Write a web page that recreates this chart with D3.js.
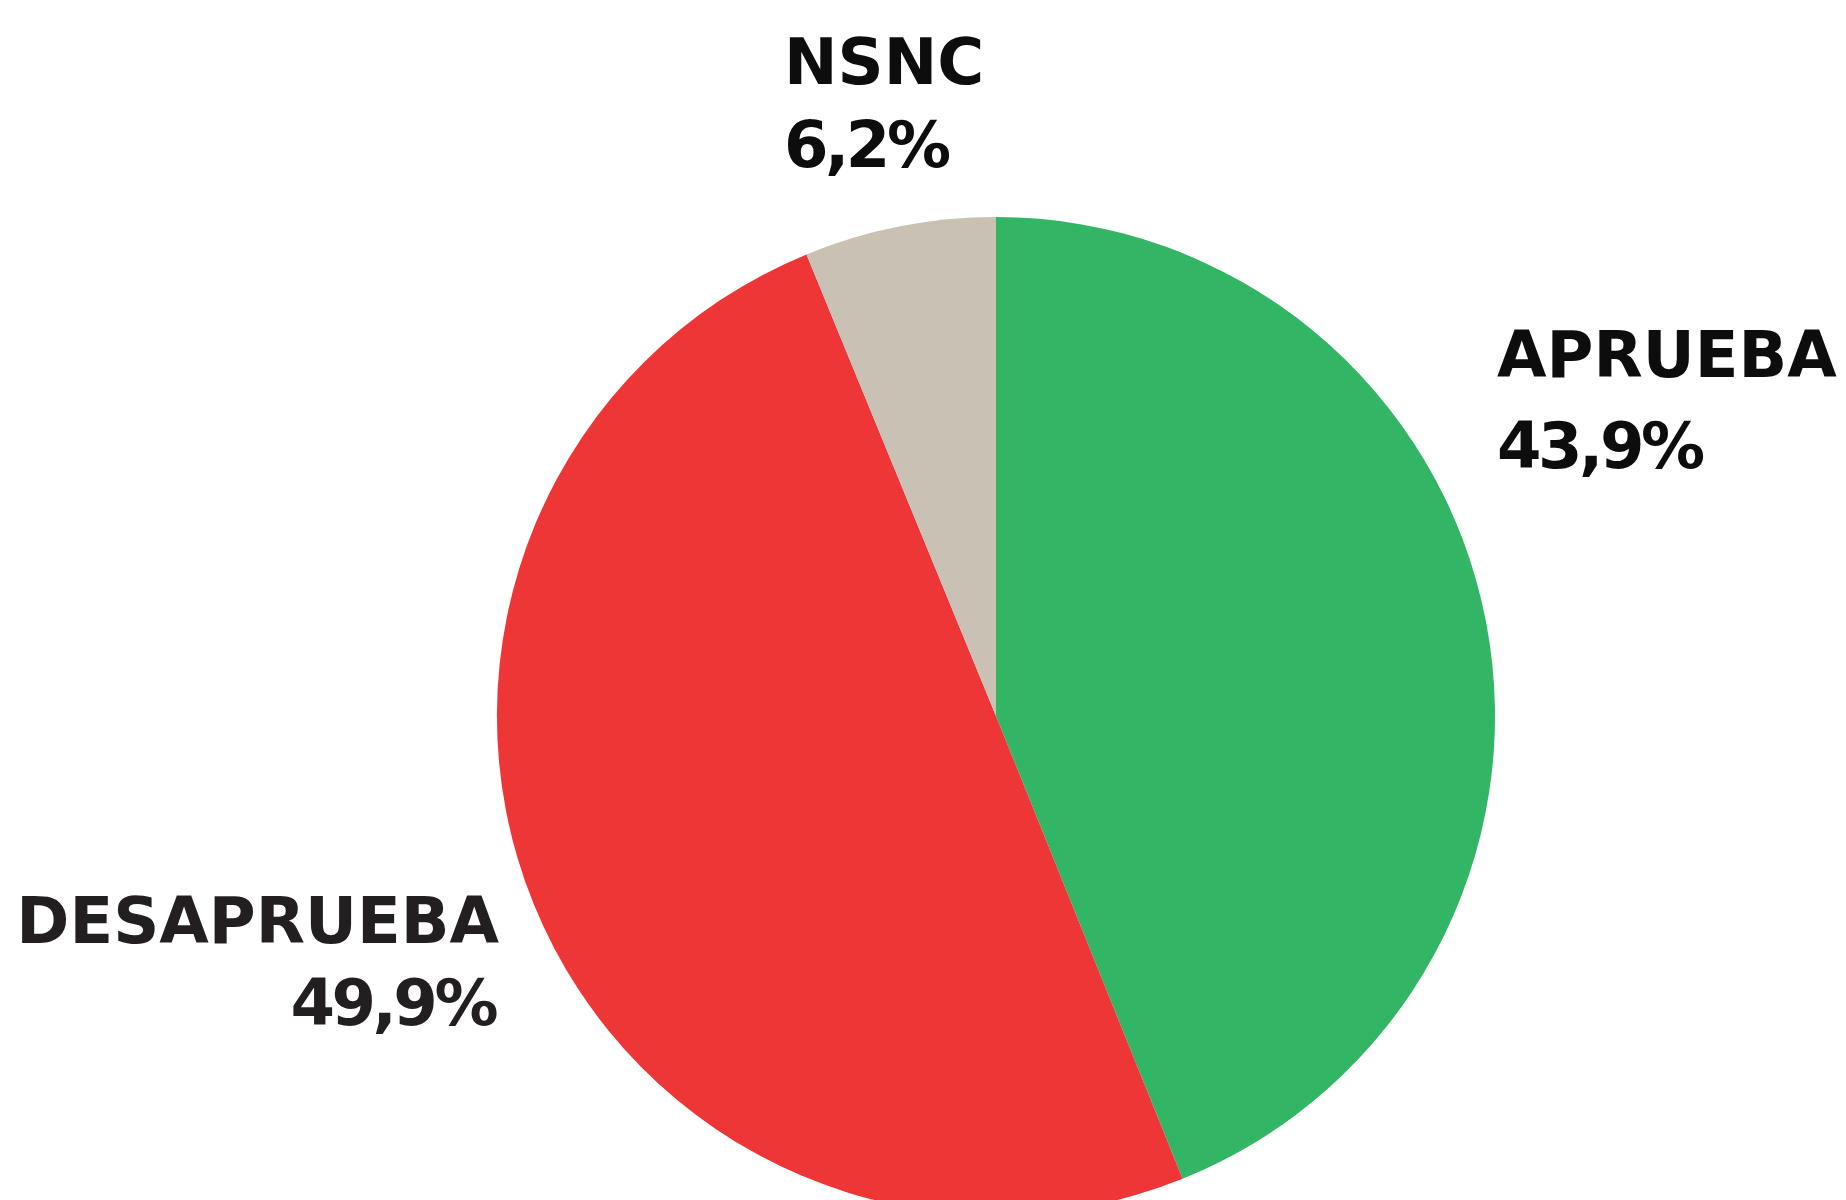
<!DOCTYPE html>
<html>
<head>
<meta charset="utf-8">
<script src="https://cdn.jsdelivr.net/npm/d3@7"></script>
<style>
  html, body { margin: 0; padding: 0; background: #fff; overflow: hidden; }
  .lbl { font-family: "DejaVu Sans", sans-serif; font-weight: bold; font-size: 64px; }
  .pct { letter-spacing: -3.5px; }
</style>
</head>
<body>
<script>
var categories = ["APRUEBA", "DESAPRUEBA", "NSNC"];
var values = [43.9, 49.9, 6.2];
var valueLabels = ["43,9%", "49,9%", "6,2%"];
var colors = ["#32b565", "#ee3637", "#c8c1b4"];

var width = 1846, height = 1200;
var cx = 996, cy = 716, radius = 499;

// where each label sits (x, first baseline, second baseline, anchor)
var labelPos = {
  "APRUEBA":    {x: 1497, y1: 377, y2: 468, anchor: "start", fill: "#0d0d0d"},
  "DESAPRUEBA": {x: 499,  y1: 943, y2: 1025, anchor: "end", fill: "#231f20"},
  "NSNC":       {x: 784,  y1: 84,  y2: 167, anchor: "start", fill: "#0d0d0d"}
};

var data = categories.map(function(c, i) {
  return {name: c, value: values[i], label: valueLabels[i], color: colors[i]};
});

var svg = d3.select("body")
            .append("svg")
            .attr("width", width)
            .attr("height", height);

var pie = d3.pie()
    .sort(null)
    .value(function(d) { return d.value; });

var arc = d3.arc()
    .innerRadius(0)
    .outerRadius(radius);

svg.append("g")
    .attr("transform", "translate(" + cx + "," + cy + ")")
  .selectAll("path")
    .data(pie(data))
  .enter().append("path")
    .attr("d", arc)
    .attr("fill", function(d) { return d.data.color; });

var labels = svg.append("g")
  .selectAll("text")
    .data(data)
  .enter().append("text")
    .attr("class", "lbl")
    .attr("text-anchor", function(d) { return labelPos[d.name].anchor; })
    .attr("fill", function(d) { return labelPos[d.name].fill; });

labels.append("tspan")
    .attr("x", function(d) { return labelPos[d.name].x; })
    .attr("y", function(d) { return labelPos[d.name].y1; })
    .text(function(d) { return d.name; });

// negative letter-spacing leaves a gap after the last glyph, pull end-anchored text back
labels.append("tspan")
    .attr("class", "pct")
    .attr("x", function(d) { return labelPos[d.name].x; })
    .attr("y", function(d) { return labelPos[d.name].y2; })
    .attr("dx", function(d) { return labelPos[d.name].anchor == "end" ? -4 : 0; })
    .text(function(d) { return d.label; });
</script>
</body>
</html>
